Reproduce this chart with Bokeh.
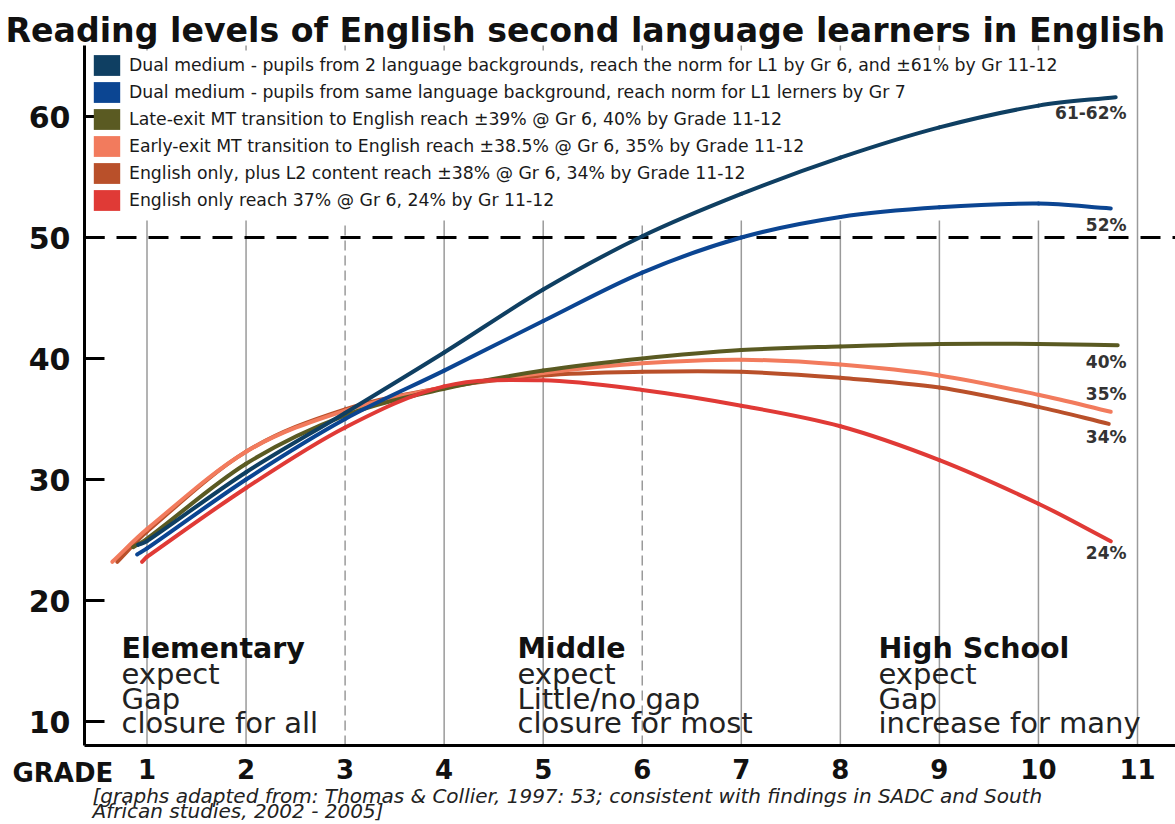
import numpy as np
from bokeh.plotting import figure
from bokeh.models import Range1d, FixedTicker, Label, Legend, LegendItem
from bokeh.core.properties import value
from bokeh.embed import file_html
from bokeh.resources import INLINE

# ---------------- data ----------------
TITLE = "Reading levels of English second language learners in English"
grade_ticks = [1, 2, 3, 4, 5, 6, 7, 8, 9, 10, 11]
level_ticks = [10, 20, 30, 40, 50, 60]
norm_level = 50
dashed_grades = [3, 6]

series_labels = [
    "Dual medium - pupils from 2 language backgrounds, reach the norm for L1 by Gr 6, and \u00b161% by Gr 11-12",
    "Dual medium - pupils from same language background, reach norm for L1 lerners by Gr 7",
    "Late-exit MT transition to English reach \u00b139% @ Gr 6, 40% by Grade 11-12",
    "Early-exit MT transition to English reach \u00b138.5% @ Gr 6, 35% by Grade 11-12",
    "English only, plus L2 content reach \u00b138% @ Gr 6, 34% by Grade 11-12",
    "English only reach 37% @ Gr 6, 24% by Gr 11-12",
]
series_colors = ["#0f3f62", "#0b4592", "#5a5a22", "#f27b5d", "#b9502a", "#e03a36"]

dual_two_x = [0.91, 1, 2, 3, 4, 5, 6, 7, 8, 9, 10, 10.78]
dual_two_y = [24.6, 24.9, 30.6, 35.5, 40.5, 45.7, 50.1, 53.6, 56.6, 59.1, 60.9, 61.6]

dual_same_x = [0.90, 1, 2, 3, 4, 5, 6, 7, 8, 9, 10, 10.73]
dual_same_y = [23.8, 24.3, 30.0, 35.0, 39.0, 43.1, 47.1, 50.0, 51.7, 52.5, 52.8, 52.4]

late_exit_x = [0.86, 1, 2, 3, 4, 5, 6, 7, 8, 9, 10, 10.80]
late_exit_y = [24.4, 25.1, 31.3, 35.3, 37.5, 39.0, 40.0, 40.7, 41.0, 41.2, 41.2, 41.1]

early_exit_x = [0.65, 1, 2, 3, 4, 5, 6, 7, 8, 9, 10, 10.73]
early_exit_y = [23.2, 25.9, 32.3, 35.7, 37.6, 38.8, 39.6, 39.9, 39.5, 38.6, 37.0, 35.6]

eng_l2_x = [0.70, 1, 2, 3, 4, 5, 6, 7, 8, 9, 10, 10.71]
eng_l2_y = [23.2, 25.7, 32.3, 35.8, 37.6, 38.6, 38.9, 38.9, 38.4, 37.6, 36.0, 34.6]

eng_only_x = [0.95, 1, 2, 3, 4, 5, 6, 7, 8, 9, 10, 10.73]
eng_only_y = [23.2, 23.6, 29.3, 34.3, 37.7, 38.2, 37.4, 36.1, 34.4, 31.6, 28.0, 24.9]

end_labels = ["61-62%", "52%", "40%", "35%", "34%", "24%"]
end_label_offsets = [-1.3, -1.4, -1.4, 1.5, -1.1, -1.0]

section_heads = ["Elementary", "Middle", "High School"]
section_lines = [["expect", "Gap", "closure for all"],
                 ["expect", "Little/no gap", "closure for most"],
                 ["expect", "Gap", "increase for many"]]

FOOTER = ["[graphs adapted from: Thomas & Collier, 1997: 53; consistent with findings in SADC and South",
          "African studies, 2002 - 2005]"]

# ---------------- layout helpers (pixel -> data) ----------------
W, H = 1175, 824
G1_PX, PX_PER_G = 146.5, 99.05
V10_PY, PX_PER_V = 721.0, 12.1


def gx(px):
    return 1 + (px - G1_PX) / PX_PER_G


def vy(py):
    return 10 + (V10_PY - py) / PX_PER_V


def smooth_segments(x, y):
    """Cubic Hermite (Bezier) segments passing through every data point."""
    n = len(x)
    m = []
    for i in range(n):
        if i == 0:
            m.append((y[1] - y[0]) / (x[1] - x[0]))
        elif i == n - 1:
            m.append((y[-1] - y[-2]) / (x[-1] - x[-2]))
        else:
            m.append((y[i + 1] - y[i - 1]) / (x[i + 1] - x[i - 1]))
    seg = dict(x0=[], y0=[], x1=[], y1=[], cx0=[], cy0=[], cx1=[], cy1=[])
    for i in range(n - 1):
        d = (x[i + 1] - x[i]) / 3.0
        seg["x0"].append(x[i]); seg["y0"].append(y[i])
        seg["x1"].append(x[i + 1]); seg["y1"].append(y[i + 1])
        seg["cx0"].append(x[i] + d); seg["cy0"].append(y[i] + m[i] * d)
        seg["cx1"].append(x[i + 1] - d); seg["cy1"].append(y[i + 1] - m[i + 1] * d)
    return seg


AX_X = gx(84)      # y-axis position
AX_Y = vy(745)     # x-axis position
TOP_V = vy(45)     # top of the plotting area
RIGHT_G = gx(W)

p = figure(width=W, height=H, output_backend="svg", toolbar_location=None,
           x_range=Range1d(gx(0), gx(W)), y_range=Range1d(vy(H), vy(0)),
           min_border_left=0, min_border_right=0, min_border_top=0, min_border_bottom=0)
p.outline_line_color = None
p.background_fill_color = "white"
p.border_fill_color = "white"
p.xgrid.visible = False
p.ygrid.visible = False

# y axis (fixed inside the canvas)
ya = p.yaxis[0]
ya.fixed_location = AX_X
ya.bounds = (AX_Y, TOP_V)
ya.ticker = FixedTicker(ticks=level_ticks)
ya.axis_line_width = 3
ya.axis_line_color = "black"
ya.major_tick_in = 20
ya.major_tick_out = 0
ya.major_tick_line_width = 3
ya.major_tick_line_color = "black"
ya.minor_tick_line_color = None
ya.major_label_text_font = "DejaVu Sans"
ya.major_label_text_font_style = "bold"
ya.major_label_text_font_size = "30px"
ya.major_label_text_color = "#111111"
ya.major_label_standoff = 14

# x axis
xa = p.xaxis[0]
xa.fixed_location = AX_Y
xa.bounds = (AX_X, RIGHT_G)
xa.ticker = FixedTicker(ticks=grade_ticks)
xa.axis_line_width = 3
xa.axis_line_color = "black"
xa.major_tick_in = 0
xa.major_tick_out = 0
xa.minor_tick_line_color = None
xa.major_label_text_font = "DejaVu Sans"
xa.major_label_text_font_style = "bold"
xa.major_label_text_font_size = "26px"
xa.major_label_text_color = "#111111"
xa.major_label_standoff = 13

# vertical grid lines from the tick values
legend_bottom = vy(220)
solid_g = [g for g in grade_ticks[:-1] if g not in dashed_grades]
p.segment(x0=solid_g, y0=[AX_Y] * len(solid_g), x1=solid_g, y1=[legend_bottom] * len(solid_g),
          line_color="#9a9a9a", line_width=1.5)
p.segment(x0=dashed_grades, y0=[AX_Y] * len(dashed_grades), x1=dashed_grades,
          y1=[legend_bottom] * len(dashed_grades),
          line_color="#9a9a9a", line_width=1.5, line_dash="10 5")
stub_g = grade_ticks[:-1]
p.segment(x0=stub_g, y0=[TOP_V] * len(stub_g), x1=stub_g, y1=[vy(50)] * len(stub_g),
          line_color="#9a9a9a", line_width=1.5)
last_g = grade_ticks[-1:]
p.segment(x0=last_g, y0=[AX_Y], x1=last_g, y1=[TOP_V], line_color="#9a9a9a", line_width=1.5)

# norm line at 50
p.segment(x0=[AX_X], y0=[norm_level], x1=[RIGHT_G], y1=[norm_level],
          line_color="black", line_width=3, line_dash="20 12")

# series (smooth curves through every read value)
xs = [dual_two_x, dual_same_x, late_exit_x, early_exit_x, eng_l2_x, eng_only_x]
ys = [dual_two_y, dual_same_y, late_exit_y, early_exit_y, eng_l2_y, eng_only_y]
draw_order = [4, 3, 2, 1, 0, 5]
for i in draw_order:
    p.bezier(line_color=series_colors[i], line_width=4, line_cap="round",
             **smooth_segments(xs[i], ys[i]))

# legend with square swatches (legend-only renderers, nothing drawn on the plot)
items = []
for lab, col in zip(series_labels, series_colors):
    r = p.quad(left=np.array([np.nan]), right=np.array([np.nan]),
               top=np.array([np.nan]), bottom=np.array([np.nan]),
               fill_color=col, line_color=None)
    items.append(LegendItem(label=lab, renderers=[r]))
LEG_PAD, GLYPH_H, SPACING = 4, 26, 1
leg_h = GLYPH_H * len(items) + SPACING * (len(items) - 1) + 2 * LEG_PAD
leg_top = 52 - LEG_PAD
legend = Legend(items=items, location=(90 - LEG_PAD, H - leg_top - leg_h), margin=0,
                padding=LEG_PAD, glyph_width=33, glyph_height=GLYPH_H, spacing=SPACING,
                label_standoff=6, label_text_font="DejaVu Sans", label_text_font_size="17.3px",
                label_text_color="#1a1a1a", background_fill_alpha=0, border_line_alpha=0)
p.add_layout(legend)

# end labels
end_x = [gx(1126)] * len(end_labels)
end_y = [ys[i][-1] + end_label_offsets[i] for i in range(len(end_labels))]
p.text(x=end_x, y=end_y, text=end_labels, text_align="right", text_baseline="middle",
       text_font=value("DejaVu Sans"), text_font_style="bold", text_font_size="17px",
       text_color="#333333")

# section annotations
section_x = [gx(121), gx(517), gx(878)]
section_line_y = [vy(648), vy(673), vy(698), vy(722)]
for sx, head, lines in zip(section_x, section_heads, section_lines):
    p.add_layout(Label(x=sx, y=section_line_y[0], text=head, text_baseline="middle",
                       text_font="DejaVu Sans", text_font_style="bold",
                       text_font_size="28.5px", text_color="#111111"))
    for ly, t in zip(section_line_y[1:], lines):
        p.add_layout(Label(x=sx, y=ly, text=t, text_baseline="middle",
                           text_font="DejaVu Sans", text_font_size="29px",
                           text_color="#222222"))

# title, GRADE and footer (inside the canvas-wide frame)
p.text(x=[gx(5)], y=[vy(30)], text=[TITLE], text_baseline="alphabetic",
       text_font=value("DejaVu Sans"), text_font_style="bold", text_font_size="33.2px",
       text_color="#111111")
p.text(x=[gx(12)], y=[vy(772)], text=["GRADE"], text_baseline="middle",
       text_font=value("DejaVu Sans"), text_font_style="bold", text_font_size="26px",
       text_color="#111111")
p.text(x=[gx(92), gx(92)], y=[vy(795), vy(810)], text=FOOTER, text_baseline="middle",
       text_font=value("DejaVu Sans"), text_font_style="italic", text_font_size="20px",
       text_color="#222222")

open("out.html", "w").write(file_html(p, INLINE))
